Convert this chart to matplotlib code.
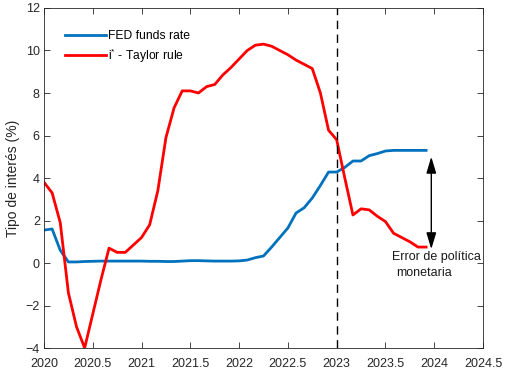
import matplotlib
matplotlib.use("Agg")
import matplotlib.pyplot as plt
import numpy as np

plt.rcParams["font.family"] = ["Liberation Sans", "DejaVu Sans"]
plt.rcParams["mathtext.fontset"] = "custom"
plt.rcParams["mathtext.rm"] = "Liberation Sans"

# monthly observations, Jan 2020 .. Dec 2023
months = 2020 + np.arange(48) / 12

fed_funds = [1.55, 1.60, 0.60, 0.05, 0.05, 0.07, 0.08, 0.09, 0.09, 0.09, 0.09, 0.09,
             0.09, 0.08, 0.08, 0.07, 0.07, 0.09, 0.11, 0.11, 0.10, 0.09, 0.09, 0.09,
             0.10, 0.14, 0.25, 0.33, 0.75, 1.20, 1.65, 2.35, 2.60, 3.06, 3.65, 4.28,
             4.28, 4.50, 4.80, 4.80, 5.05, 5.15, 5.27, 5.30, 5.30, 5.30, 5.30, 5.30]

taylor = [3.80, 3.30, 1.90, -1.40, -3.00, -4.00, -2.40, -0.80, 0.70, 0.50, 0.50, 0.85,
          1.20, 1.80, 3.40, 5.90, 7.30, 8.10, 8.10, 8.00, 8.30, 8.40, 8.85, 9.20,
          9.60, 10.00, 10.25, 10.30, 10.20, 10.00, 9.80, 9.55, 9.35, 9.15, 8.00, 6.25,
          5.80, 4.00, 2.26, 2.55, 2.50, 2.20, 1.95, 1.40, 1.20, 1.00, 0.75, 0.75]

x_ticks = [2020, 2020.5, 2021, 2021.5, 2022, 2022.5, 2023, 2023.5, 2024, 2024.5]
x_labels = ["2020", "2020.5", "2021", "2021.5", "2022", "2022.5", "2023", "2023.5", "2024", "2024.5"]
y_ticks = [-4, -2, 0, 2, 4, 6, 8, 10, 12]

fig = plt.figure(figsize=(5.08, 3.72), dpi=100)
ax = fig.add_axes([0.0866, 0.0645, 0.8642, 0.914])

ax.plot(months, fed_funds, color="#0072BD", linewidth=2, label="FED funds rate")
ax.plot(months, taylor, color="#FF0000", linewidth=2, label=r"i$^{*}$ - Taylor rule")
ax.axvline(2023, color="black", linewidth=1, linestyle=(0, (6, 4)))

ax.annotate("", xy=(2023.97, 0.65), xytext=(2023.97, 5.0),
            arrowprops=dict(arrowstyle="<|-|>,head_length=1.0,head_width=0.3",
                            color="black", lw=1, mutation_scale=10,
                            shrinkA=0, shrinkB=0))
ax.text(2023.57, 0.55, "Error de política", fontsize=9,
        ha="left", va="top", color="#1a1a1a")
ax.text(2023.61, -0.2, "monetaria", fontsize=9,
        ha="left", va="top", color="#1a1a1a")

ax.set_xlim(2020, 2024.5)
ax.set_ylim(-4, 12)
ax.set_xticks(x_ticks)
ax.set_xticklabels(x_labels)
ax.set_yticks(y_ticks)
ax.tick_params(direction="in", top=True, right=True, length=4, width=0.6,
               labelsize=9, colors="#262626", pad=3)
ax.tick_params(axis="x", pad=7)
for s in ax.spines.values():
    s.set_color("#262626")
    s.set_linewidth(0.6)
ax.set_ylabel("Tipo de interés (%)", fontsize=10, color="#262626", labelpad=4)

ax.legend(loc="upper left", frameon=False, fontsize=8.7, handlelength=3.4,
          handletextpad=0.2, borderaxespad=0.6, bbox_to_anchor=(0.02, 0.97),
          labelspacing=0.35)

fig.savefig("out.png", dpi=100)
